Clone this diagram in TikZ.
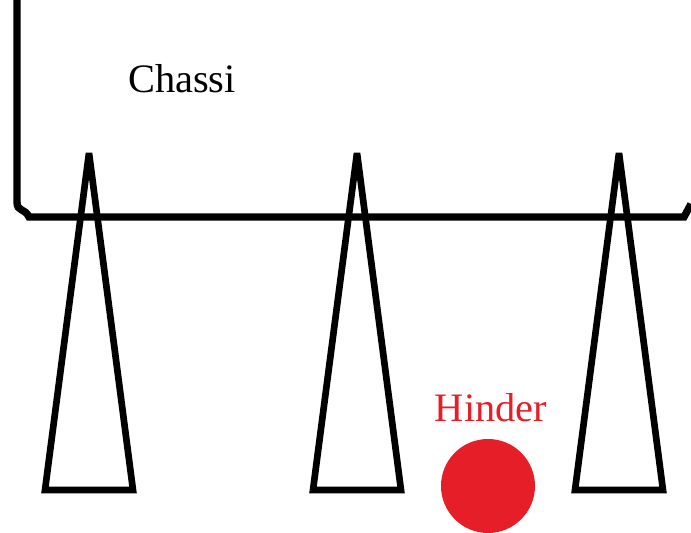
\documentclass[tikz,border=0pt]{standalone}
\usepackage{fontspec}
\setmainfont{Liberation Serif}
\usetikzlibrary{calc,positioning}
\definecolor{hinderred}{RGB}{230,30,40}

\begin{document}
\begin{tikzpicture}
[x=0.02cm,y=-0.02cm,line width=4.2pt,
 label/.style = {font=\fontsize{23}{26}\selectfont, inner sep=0pt},
 leg/.style = {draw, line width=3.8pt, line join=miter, miter limit=3},]
\useasboundingbox (0,0) rectangle (691,533);
% chassi frame
\coordinate (C1) at (17,0);
\coordinate (C2) at (17,202);
\coordinate (C3) at (29,217);
\coordinate (C4) at (684,217);
\coordinate (C5) at (691,204);
\draw (C1)--(C2) .. controls (17,212) and (25,208) .. (C3)--(C4)--(C5);
\node (chassi) at (182,79)[label] {Chassi};
% the three legs
\foreach \i/\x in {a/89,b/357,c/619}
{
\coordinate (T\i) at (\x,153);
\coordinate (L\i) at (\x-44,490);
\coordinate (R\i) at (\x+44,490);
\draw[leg] (T\i)--(L\i)--(R\i)--cycle;
}
% obstacle
\node (hinder) at (491,408)[label,text=hinderred] {Hinder};
\fill[hinderred] (488,486) circle (47);
\end{tikzpicture}
\end{document}
